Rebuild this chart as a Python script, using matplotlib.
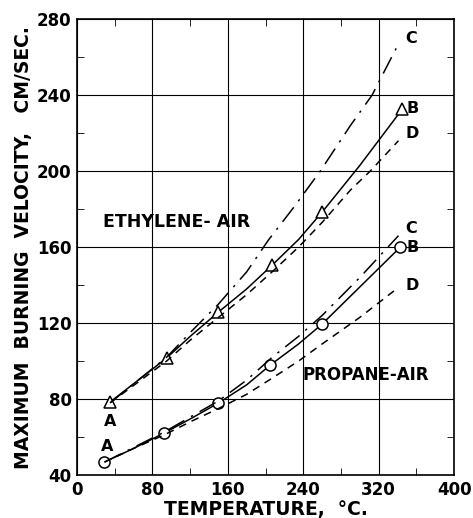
import matplotlib.pyplot as plt
from matplotlib.ticker import MultipleLocator

plt.rcParams.update({'font.family': 'DejaVu Sans', 'font.weight': 'bold',
                     'axes.labelweight': 'bold',
                     'xtick.labelsize': 12, 'ytick.labelsize': 12})

# ethylene-air
eth_T = [35, 95, 150, 207, 260, 345]
eth_v = [78.4, 101.6, 125.8, 150.5, 178.4, 232.6]
eth_line_T = [35, 65, 95, 120, 150, 180, 207, 235, 260, 300, 345]
eth_line_v = [78.4, 90, 101.6, 113, 125.8, 138, 150.5, 164, 178.4, 203, 232.6]
eth_c_T = [35, 65, 95, 120, 150, 180, 203, 230, 258, 290, 313, 341]
eth_c_v = [78, 90, 102, 115, 130, 147, 163.7, 181, 200, 224, 240, 267]
eth_d_T = [35, 65, 95, 120, 150, 180, 207, 235, 260, 290, 311, 341]
eth_d_v = [78, 89, 100, 111, 123, 135, 147, 160, 173, 190, 200, 216]

# propane-air
pro_T = [29, 92, 150, 205, 260, 343]
pro_v = [46.8, 62, 77.9, 97.9, 119.5, 160]
pro_line_T = [29, 60, 92, 120, 150, 180, 205, 235, 260, 300, 343]
pro_line_v = [46.8, 54, 62, 69.5, 77.9, 87.5, 97.9, 109, 119.5, 139, 160]
pro_c_T = [29, 60, 92, 120, 150, 180, 207, 235, 260, 300, 341]
pro_c_v = [46.8, 54.5, 62.5, 70.5, 79, 90, 102, 113, 124, 144, 166]
pro_d_T = [29, 60, 92, 120, 150, 180, 207, 235, 260, 300, 339]
pro_d_v = [46.8, 54, 61, 68, 75, 82.5, 91, 100, 109, 123, 138]

fig = plt.figure(figsize=(4.73, 5.18), dpi=100)
ax = fig.add_axes([0.163, 0.083, 0.797, 0.880])

k = 'black'
ax.plot(eth_line_T, eth_line_v, '-', color=k, lw=1.1)
ax.plot(eth_T, eth_v, '^', ms=8, mfc='white', mec=k, mew=1.1)
ax.plot(eth_c_T, eth_c_v, '-.', color=k, lw=1.1, dashes=(12, 5, 1.5, 5))
ax.plot(eth_d_T, eth_d_v, '--', color=k, lw=1.1, dashes=(5, 4))

ax.plot(pro_line_T, pro_line_v, '-', color=k, lw=1.1)
ax.plot(pro_T, pro_v, 'o', ms=8, mfc='white', mec=k, mew=1.1)
ax.plot(pro_c_T, pro_c_v, '-.', color=k, lw=1.1, dashes=(12, 5, 1.5, 5))
ax.plot(pro_d_T, pro_d_v, '--', color=k, lw=1.1, dashes=(5, 4))

fs = 11.5
ax.text(35, 68, 'A', fontsize=fs, ha='center', va='center')
ax.text(32, 55, 'A', fontsize=fs, ha='center', va='center')
ax.text(348, 266, 'C', fontsize=fs, ha='left', va='bottom')
ax.text(350, 233, 'B', fontsize=fs, ha='left', va='center')
ax.text(348, 220, 'D', fontsize=fs, ha='left', va='center')
ax.text(348, 166, 'C', fontsize=fs, ha='left', va='bottom')
ax.text(350, 160, 'B', fontsize=fs, ha='left', va='center')
ax.text(348, 140, 'D', fontsize=fs, ha='left', va='center')
ax.text(28, 173, 'ETHYLENE- AIR', fontsize=12.5, ha='left', va='center')
ax.text(239, 92.6, 'PROPANE-AIR', fontsize=12, ha='left', va='center')

ax.set_xlim(0, 400)
ax.set_ylim(40, 280)
ax.xaxis.set_major_locator(MultipleLocator(80))
ax.xaxis.set_minor_locator(MultipleLocator(40))
ax.yaxis.set_major_locator(MultipleLocator(40))
ax.yaxis.set_minor_locator(MultipleLocator(20))
ax.tick_params(which='both', direction='in', top=True, right=True)
ax.tick_params(which='major', length=0, pad=4)
ax.tick_params(which='minor', length=5)
ax.grid(True, which='major', color=k, lw=0.8)
for s in ax.spines.values():
    s.set_linewidth(1.2)

ax.set_xlabel('TEMPERATURE,  °C.', fontsize=13.5, labelpad=1)
ax.set_ylabel('MAXIMUM  BURNING  VELOCITY,   CM/SEC.', fontsize=13.5, labelpad=3)

fig.savefig('out.png', dpi=100)
